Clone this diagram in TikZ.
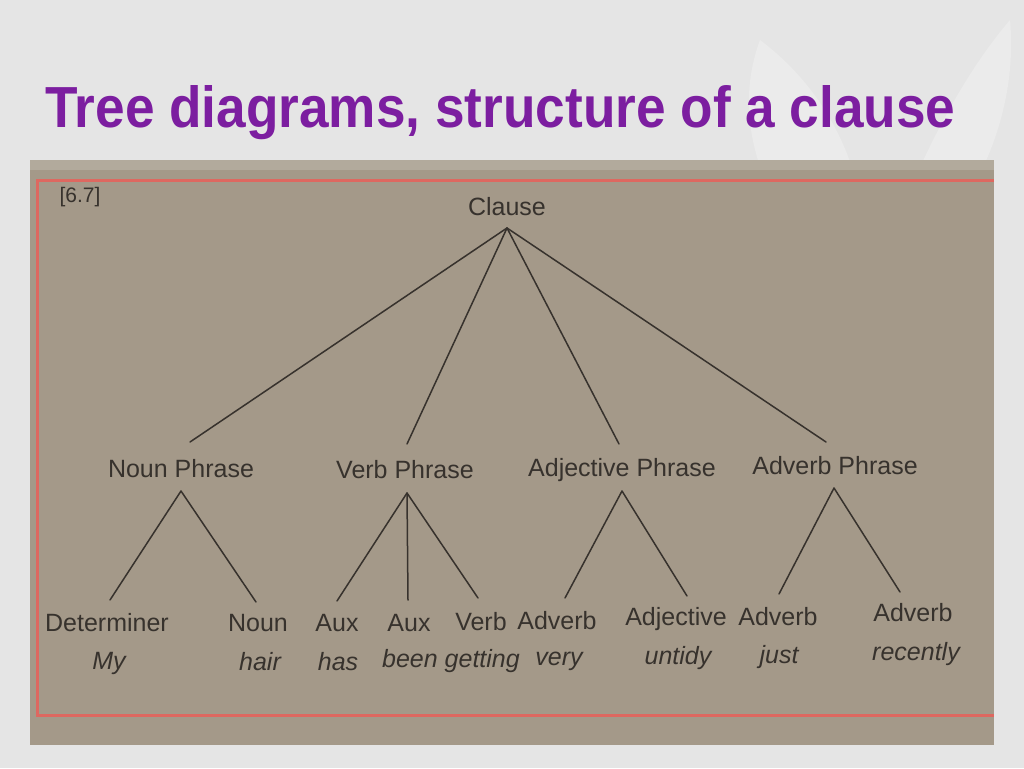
\documentclass[tikz,border=0pt]{standalone}
\usepackage{fontspec}
\usepackage{graphicx}
\setmainfont{Liberation Sans}
\definecolor{slidebg}{RGB}{229,229,229}
\definecolor{leaf}{RGB}{235,235,235}
\definecolor{titlepurple}{RGB}{124,30,160}
\definecolor{paper}{RGB}{164,153,137}
\definecolor{paperedge}{RGB}{178,170,156}
\definecolor{redline}{RGB}{222,104,96}
\definecolor{ink}{RGB}{55,50,45}
\tikzset{
  lbl/.style={font=\fontsize{25}{25}\selectfont, text=ink, inner sep=0pt, anchor=center},
  word/.style={font=\fontsize{25}{25}\selectfont\itshape, text=ink, inner sep=0pt, anchor=center},
  branch/.style={draw=ink, line width=1.5pt, line cap=round},
}
\begin{document}
\begin{tikzpicture}[x=1pt,y=-1pt]
\useasboundingbox (0,0) rectangle (1024,768);
% slide background
\fill[slidebg] (0,0) rectangle (1024,768);
% faint leaves
\fill[leaf] (860,300) .. controls (760,220) and (730,120) .. (760,40) .. controls (840,100) and (880,200) .. (860,300) -- cycle;
\fill[leaf] (870,300) .. controls (900,200) and (950,90) .. (1010,20) .. controls (1020,130) and (960,240) .. (870,300) -- cycle;
% title
\node[anchor=base west, inner sep=0pt, text=titlepurple] (title) at (45,127)
  {\resizebox{910pt}{42pt}{\bfseries Tree diagrams, structure of a clause}};
% photo of the book page
\fill[paper] (30,160) rectangle (994,745);
\fill[paperedge] (30,160) rectangle (994,170);
% red border
\draw[redline, line width=3pt] (994,180) -- (37,180) -- (37,715) -- (994,715);
% label
\node[lbl, font=\fontsize{21}{21}\selectfont] (fig) at (80,197) {[6.7]};
% root
\node[lbl] (clause) at (507,207) {Clause};
% phrases
\node[lbl] (np) at (181,469) {Noun Phrase};
\node[lbl] (vp) at (405,470) {Verb Phrase};
\node[lbl] (adjp) at (622,470) {Adjective Phrase};
\node[lbl] (advp) at (835,466) {Adverb Phrase};
% leaves
\node[lbl] (det) at (107,623) {Determiner};
\node[lbl] (noun) at (258,623) {Noun};
\node[lbl] (aux1) at (337,623) {Aux};
\node[lbl] (aux2) at (409,623) {Aux};
\node[lbl] (verb) at (481,622) {Verb};
\node[lbl] (adv1) at (557,621) {Adverb};
\node[lbl] (adj) at (676,619) {Adjective};
\node[lbl] (adv2) at (778,617) {Adverb};
\node[lbl] (adv3) at (913,613) {Adverb};
% words
\node[word] (my) at (109,663) {My};
\node[word] (hair) at (260,662) {hair};
\node[word] (has) at (338,662) {has};
\node[word] (been) at (451,661) {been getting};
\node[word] (very) at (559,661) {very};
\node[word] (untidy) at (678,658) {untidy};
\node[word] (just) at (779,657) {just};
\node[word] (recently) at (916,654) {recently};
% branch points
\coordinate (clauseB) at (507,228);
\coordinate (npT) at (190,442);
\coordinate (vpT) at (407,444);
\coordinate (adjpT) at (619,444);
\coordinate (advpT) at (826,442);
\coordinate (npB) at (181,491);
\coordinate (vpB) at (407,493);
\coordinate (adjpB) at (622,491);
\coordinate (advpB) at (834,488);
\coordinate (detT) at (110,600);
\coordinate (nounT) at (256,602);
\coordinate (aux1T) at (337,601);
\coordinate (aux2T) at (408,600);
\coordinate (verbT) at (478,598);
\coordinate (adv1T) at (565,598);
\coordinate (adjT) at (687,596);
\coordinate (adv2T) at (779,594);
\coordinate (adv3T) at (900,592);
% branches
\draw[branch] (clauseB) -- (npT);
\draw[branch] (clauseB) -- (vpT);
\draw[branch] (clauseB) -- (adjpT);
\draw[branch] (clauseB) -- (advpT);
\draw[branch] (npB) -- (detT);
\draw[branch] (npB) -- (nounT);
\draw[branch] (vpB) -- (aux1T);
\draw[branch] (vpB) -- (aux2T);
\draw[branch] (vpB) -- (verbT);
\draw[branch] (adjpB) -- (adv1T);
\draw[branch] (adjpB) -- (adjT);
\draw[branch] (advpB) -- (adv2T);
\draw[branch] (advpB) -- (adv3T);
\end{tikzpicture}
\end{document}
